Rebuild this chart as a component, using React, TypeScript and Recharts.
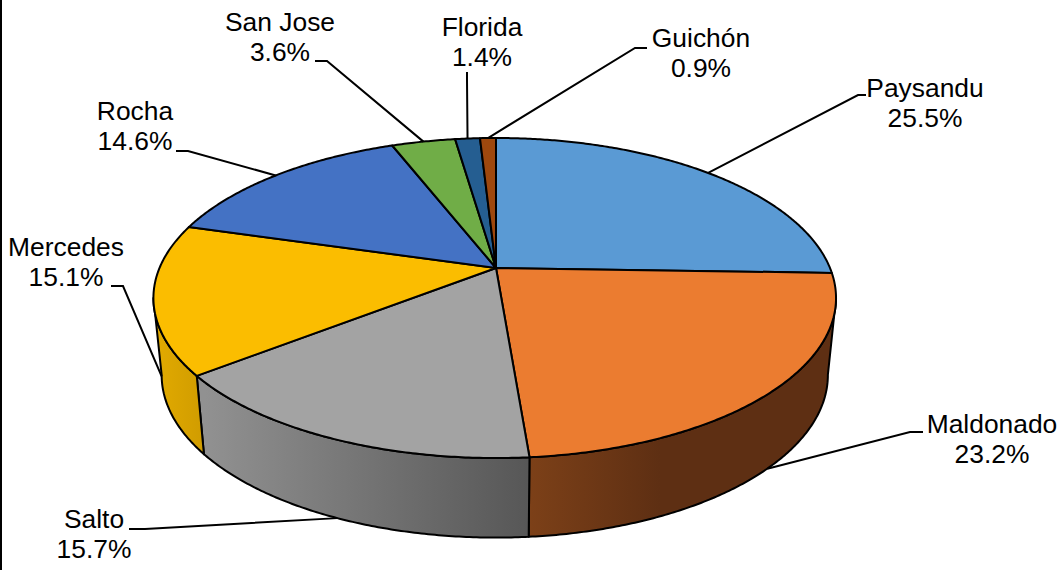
import { Pie, PieChart } from "recharts";

const WIDTH = 1062;
const HEIGHT = 570;

const categories = ["Paysandu", "Maldonado", "Salto", "Mercedes", "Rocha", "San Jose", "Florida", "Guichón"];
const shares = [25.5, 23.2, 15.7, 15.1, 14.6, 3.6, 1.4, 0.9];
const colors = ["#5A9AD4", "#EB7C30", "#A3A3A3", "#FBBD00", "#4472C4", "#70AD47", "#255E91", "#9E480E"];

// wall gradient: [left colour, right colour, left x, right x]
const wallGradients: Record<number, [string, string, number, number]> = {
  1: ["#7C4018", "#5E2F13", 530, 660],
  2: ["#919191", "#575757", 205, 528],
  3: ["#E0A900", "#D09C00", 160, 204],
};

// text centre, first baseline, leader line bend and end, per slice
const labelSpots = [
  { x: 925, y: 97, bend: [858, 95], end: [866, 95] },
  { x: 992, y: 433, bend: [910, 432], end: [923, 432] },
  { x: 94, y: 528, bend: [145, 529], end: [129, 529] },
  { x: 66, y: 256, bend: [123, 286], end: [111, 286] },
  { x: 135, y: 120, bend: [188, 151], end: [176, 151] },
  { x: 280, y: 31, bend: [327, 61], end: [315, 61] },
  { x: 482, y: 36, bend: [467, 80], end: [467, 72] },
  { x: 701, y: 47, bend: [635, 48], end: [647, 48] },
];

const data = categories.map((name, i) => ({ name, value: shares[i], fill: colors[i] }));

// tilted disc as a perspective view of a circle
const APEX_X = 496;
const APEX_Y = 268;
const RX_RIGHT = 334;
const RX_LEFT = 336.5;
const RY = 154.4;
const PERSP = -0.1875;
const WALL_FROM = 100.8;
const WALL_TO = 259.2;

const topPoint = (theta: number) => {
  const t = (theta * Math.PI) / 180;
  const u = Math.sin(t);
  const v = -Math.cos(t);
  const w = 1 + PERSP * v;
  return [APEX_X + ((u < 0 ? RX_LEFT : RX_RIGHT) * u) / w, APEX_Y + (RY * v) / w];
};

const bottomPoint = (theta: number) => {
  const [x, y] = topPoint(theta);
  return [APEX_X + (x - APEX_X) * 0.976, 375 + (y - 298) * 1.016];
};

const arc = (from: number, to: number, at: (t: number) => number[]) => {
  const steps = Math.max(2, Math.ceil(Math.abs(to - from) * 2));
  const pts: string[] = [];
  for (let i = 0; i <= steps; i++) {
    const [x, y] = at(from + ((to - from) * i) / steps);
    pts.push(`${x.toFixed(2)} ${y.toFixed(2)}`);
  }
  return pts;
};

const TopSlice = (props: any) => {
  const from = 90 - props.startAngle;
  const to = 90 - props.endAngle;
  const d = `M${APEX_X} ${APEX_Y} L${arc(from, to, topPoint).join(" L")} Z`;
  return <path d={d} fill={props.fill} stroke="#000" strokeWidth={2} strokeLinejoin="round" />;
};

const WallSlice = (props: any) => {
  const from = Math.max(90 - props.startAngle, WALL_FROM);
  const to = Math.min(90 - props.endAngle, WALL_TO);
  if (to <= from) return null;
  const idx = categories.indexOf(props.name);
  const grad = wallGradients[idx];
  const id = `wall-${idx}`;
  const upper = arc(from, to, topPoint);
  const lower = arc(to, from, bottomPoint);
  const d = `M${upper.join(" L")} L${lower.join(" L")} Z`;
  return (
    <g>
      <defs>
        <linearGradient id={id} gradientUnits="userSpaceOnUse" x1={grad[2]} x2={grad[3]} y1={0} y2={0}>
          <stop offset="0%" stopColor={grad[0]} />
          <stop offset="100%" stopColor={grad[1]} />
        </linearGradient>
      </defs>
      <path d={d} fill={`url(#${id})`} stroke="#000" strokeWidth={2} strokeLinejoin="round" />
    </g>
  );
};

const SliceLabel = (props: any) => {
  const { index, midAngle, name, value } = props;
  const spot = labelSpots[index];
  const theta = 90 - midAngle;
  const onWall = theta > WALL_FROM - 3 && theta < WALL_TO + 3;
  const [rx, ry] = onWall ? bottomPoint(Math.max(WALL_FROM + 0.5, Math.min(WALL_TO - 0.5, theta))) : topPoint(theta);
  const line = `${rx},${ry} ${spot.bend[0]},${spot.bend[1]} ${spot.end[0]},${spot.end[1]}`;
  return (
    <g>
      <polyline points={line} fill="none" stroke="#000" strokeWidth={2} />
      <text
        x={spot.x}
        y={spot.y}
        textAnchor="middle"
        fontFamily="'Liberation Sans', Arial, sans-serif"
        fontSize={26.4}
        fill="#000"
      >
        <tspan x={spot.x}>{name}</tspan>
        <tspan x={spot.x} dy={30}>{`${value.toFixed(1)}%`}</tspan>
      </text>
    </g>
  );
};

export default function App() {
  return (
    <div style={{ position: "absolute", left: 0, top: 0, width: WIDTH, height: HEIGHT, background: "#fff" }}>
      <PieChart width={WIDTH} height={HEIGHT} margin={{ top: 0, right: 0, bottom: 0, left: 0 }}>
        <Pie
          data={data}
          dataKey="value"
          nameKey="name"
          cx={APEX_X}
          cy={APEX_Y}
          outerRadius={RX_RIGHT}
          startAngle={90}
          endAngle={-270}
          stroke="none"
          shape={WallSlice}
          label={false}
          labelLine={false}
          isAnimationActive={false}
        />
        <Pie
          data={data}
          dataKey="value"
          nameKey="name"
          cx={APEX_X}
          cy={APEX_Y}
          outerRadius={RX_RIGHT}
          startAngle={90}
          endAngle={-270}
          stroke="none"
          shape={TopSlice}
          label={SliceLabel}
          labelLine={false}
          isAnimationActive={false}
        />
      </PieChart>
      <div style={{ position: "absolute", left: 0, top: 0, width: 2, height: HEIGHT, background: "#000" }} />
    </div>
  );
}
